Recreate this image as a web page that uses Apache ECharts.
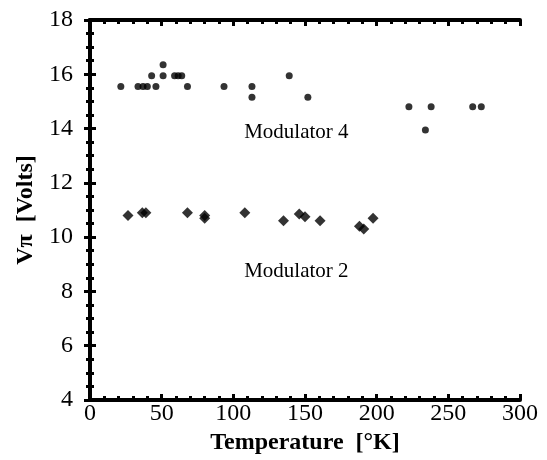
<!DOCTYPE html>
<html>
<head>
<meta charset="utf-8">
<script src="https://cdn.jsdelivr.net/npm/echarts@6/dist/echarts.min.js"></script>
<style>
  html, body { margin: 0; padding: 0; background: #fff; }
  #chart { width: 547px; height: 460px; }
</style>
</head>
<body>
<div id="chart"></div>
<script>
// Modulator 4 (small dots)
const mod4Temp = [21.5, 33.5, 37, 40, 46, 43, 51, 51, 59, 61.5, 64, 68, 93.5, 113, 113, 139, 152, 222.5, 238, 234, 267, 273];
const mod4Vpi  = [15.55, 15.55, 15.55, 15.55, 15.55, 15.95, 16.35, 15.95, 15.95, 15.95, 15.95, 15.55, 15.55, 15.55, 15.15, 15.95, 15.15, 14.8, 14.8, 13.95, 14.8, 14.8];

// Modulator 2 (diamonds)
const mod2Temp = [26.5, 36.5, 39, 68, 80, 80, 108, 135, 146, 150, 160.5, 188, 191, 197.5];
const mod2Vpi  = [10.8, 10.9, 10.9, 10.9, 10.8, 10.7, 10.9, 10.6, 10.85, 10.75, 10.6, 10.4, 10.3, 10.7];

// in-plot labels
const noteText = ['Modulator 4', 'Modulator 2'];
const noteTemp = [144, 144];
const noteVpi  = [13.85, 8.75];

const xTicks = [0, 50, 100, 150, 200, 250, 300];
const yTicks = [4, 6, 8, 10, 12, 14, 16, 18];

const serif = '"Liberation Serif", "DejaVu Serif", serif';
const chart = echarts.init(document.getElementById('chart'));

const frameLine = { lineStyle: { color: '#000', width: 4 } };
const tickIn = { inside: true, length: 6, lineStyle: { color: '#000', width: 3 } };
const minorIn = { show: true, length: 4, lineStyle: { color: '#000', width: 3 } };

const option = {
  animation: false,
  grid: { left: 90, right: 27, top: 20, bottom: 60 },
  xAxis: [
    {
      type: 'value', min: xTicks[0], max: xTicks[xTicks.length - 1], interval: 50,
      name: 'Temperature  [°K]', nameLocation: 'middle', nameGap: 28,
      nameTextStyle: { fontFamily: serif, fontSize: 24, color: '#000', fontWeight: 'bold' },
      axisLine: frameLine, axisTick: tickIn,
      minorTick: Object.assign({ splitNumber: 5 }, minorIn),
      axisLabel: { fontFamily: serif, fontSize: 24, color: '#000', margin: 2 },
      splitLine: { show: false }
    },
    {
      type: 'value', position: 'top', min: xTicks[0], max: xTicks[xTicks.length - 1], interval: 50,
      axisLine: frameLine, axisTick: tickIn,
      minorTick: Object.assign({ splitNumber: 5 }, minorIn),
      axisLabel: { show: false }, splitLine: { show: false }
    }
  ],
  yAxis: [
    {
      type: 'value', min: yTicks[0], max: yTicks[yTicks.length - 1], interval: 2,
      name: 'Vπ  [Volts]', nameLocation: 'middle', nameGap: 51, nameRotate: 90,
      nameTextStyle: { fontFamily: serif, fontSize: 24, color: '#000', fontWeight: 'bold' },
      axisLine: frameLine, axisTick: tickIn,
      minorTick: Object.assign({ splitNumber: 4 }, minorIn),
      axisLabel: { fontFamily: serif, fontSize: 24, color: '#000', margin: 17 },
      splitLine: { show: false }
    },
    {
      type: 'value', position: 'right', min: yTicks[0], max: yTicks[yTicks.length - 1], interval: 2,
      axisLine: frameLine, axisTick: tickIn,
      minorTick: Object.assign({ splitNumber: 4 }, minorIn),
      axisLabel: { show: false }, splitLine: { show: false }
    }
  ],
  series: [
    {
      name: 'Modulator 4', type: 'scatter', symbol: 'circle', symbolSize: 7,
      itemStyle: { color: '#000' },
      data: mod4Temp.map((t, i) => [t, mod4Vpi[i]])
    },
    {
      name: 'Modulator 2', type: 'scatter', symbol: 'diamond', symbolSize: 11,
      itemStyle: { color: '#000' },
      data: mod2Temp.map((t, i) => [t, mod2Vpi[i]])
    },
    {
      name: 'notes', type: 'scatter', symbolSize: 1, silent: true,
      itemStyle: { color: 'rgba(0,0,0,0)', opacity: 1 },
      label: {
        show: true, position: 'inside', fontFamily: serif, fontSize: 21, color: '#000',
        formatter: p => p.name
      },
      data: noteText.map((n, i) => ({ name: n, value: [noteTemp[i], noteVpi[i]] }))
    }
  ]
};
chart.setOption(option);
</script>
</body>
</html>
